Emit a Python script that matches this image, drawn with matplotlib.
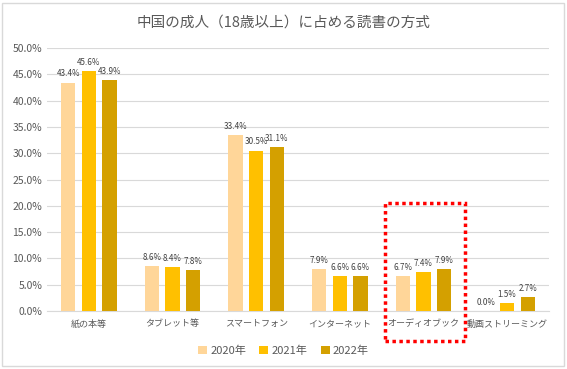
import numpy as np
import matplotlib
matplotlib.use('Agg')
import matplotlib.pyplot as plt
from matplotlib.patches import Rectangle

plt.rcParams['font.family'] = ['Noto Sans CJK JP', 'DejaVu Sans']

title = '中国の成人（18歳以上）に占める読書の方式'
categories = ['紙の本等', 'タブレット等', 'スマートフォン', 'インターネット', 'オーディオブック', '動画ストリーミング']
years = ['2020年', '2021年', '2022年']
v2020 = [43.4, 8.6, 33.4, 7.9, 6.7, 0.0]
v2021 = [45.6, 8.4, 30.5, 6.6, 7.4, 1.5]
v2022 = [43.9, 7.8, 31.1, 6.6, 7.9, 2.7]
colors = ['#FFD699', '#FFC000', '#D4A000']

fig = plt.figure(figsize=(5.67, 3.69), dpi=100)
# outer chart frame
fig.patches.append(Rectangle((0.004, 0.008), 0.99, 0.985, transform=fig.transFigure,
                             fill=False, edgecolor='#D9D9D9', linewidth=1))
ax = fig.add_axes([0.083, 0.157, 0.885, 0.713])

x = np.arange(len(categories))
w = 0.17
step = 0.247
for i, (vals, c, lab) in enumerate(zip([v2020, v2021, v2022], colors, years)):
    pos = x + (i - 1) * step
    ax.bar(pos, vals, width=w, color=c, label=lab, zorder=3)
    for p, v in zip(pos, vals):
        ax.text(p, v + 0.8, f'{v:.1f}%', ha='center', va='bottom', fontsize=5.8, color='#404040')

ax.set_ylim(0, 50)
ax.set_xlim(-0.5, len(categories) - 0.5)
ax.set_yticks(np.arange(0, 51, 5))
ax.set_yticklabels([f'{t:.1f}%' for t in np.arange(0, 51, 5)])
ax.set_xticks(x)
ax.set_xticklabels(categories)
ax.tick_params(axis='both', length=0, labelsize=7.5, colors='#595959')
ax.tick_params(axis='x', pad=6, labelsize=6.5)
ax.grid(axis='y', color='#D9D9D9', linewidth=0.8, zorder=0)
for s in ['top', 'right', 'left']:
    ax.spines[s].set_visible(False)
ax.spines['bottom'].set_color('#D9D9D9')

fig.text(0.5, 0.94, title, ha='center', va='center', fontsize=10.5, color='#595959')

leg = fig.legend(loc='center', bbox_to_anchor=(0.5, 0.05), ncol=3, frameon=False,
                 fontsize=8, handlelength=0.8, handleheight=0.8, handletextpad=0.3,
                 columnspacing=1.2)
for t in leg.get_texts():
    t.set_color('#595959')

# red dotted highlight box
fig.patches.append(Rectangle((385 / 567, 1 - 341 / 369), 80 / 567, 138 / 369,
                             transform=fig.transFigure, fill=False, edgecolor='red',
                             linewidth=2.5, linestyle=(0, (1, 1))))

fig.savefig('out.png', dpi=100)
